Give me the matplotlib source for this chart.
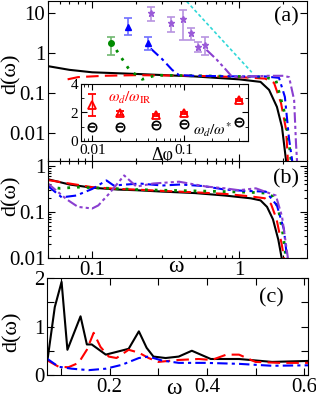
import numpy as np
import matplotlib
matplotlib.use("Agg")
import matplotlib.pyplot as plt
from matplotlib.ticker import LogLocator, NullFormatter, MultipleLocator, FixedLocator

plt.rcParams['font.family'] = ['Liberation Serif', 'DejaVu Serif']
plt.rcParams['mathtext.fontset'] = 'stix'
plt.rcParams['xtick.direction'] = 'in'
plt.rcParams['ytick.direction'] = 'in'

# ---- panel (a): d(omega) curves ----
a_black_w = [0.05, 0.07, 0.1, 0.2, 0.5, 1.0, 1.4, 1.6, 1.81, 1.96, 2.09]
a_black_d = [0.47, 0.38, 0.33, 0.30, 0.26, 0.22, 0.19, 0.12, 0.045, 0.014, 0.002]
a_red_w = [0.068, 0.08, 0.12, 0.2, 0.5, 1.0, 1.5, 1.73, 1.93, 2.09, 2.15]
a_red_d = [0.22, 0.25, 0.27, 0.28, 0.27, 0.25, 0.23, 0.18, 0.056, 0.012, 0.002]
a_green_w = [0.146, 0.179, 0.219, 0.272, 0.5, 1.0, 1.5, 1.78, 2.02, 2.19, 2.26]
a_green_d = [1.19, 0.38, 0.22, 0.28, 0.27, 0.26, 0.25, 0.21, 0.037, 0.0056, 0.002]
a_blue_w = [0.25, 0.3, 0.35, 0.39, 0.5, 1.0, 1.5, 1.87, 2.05, 2.19, 2.3]
a_blue_d = [1.3, 0.7, 0.38, 0.28, 0.27, 0.26, 0.26, 0.24, 0.08, 0.007, 0.002]
a_purple_w = [0.6, 0.7, 0.815, 0.9, 1.2, 1.6, 2.0, 2.19, 2.37, 2.44, 2.48]
a_purple_d = [1.2, 0.7, 0.38, 0.25, 0.26, 0.27, 0.27, 0.25, 0.067, 0.0056, 0.002]
# omega^-4 guide line
cyan_w = [0.44, 1.22]
cyan_d = [19.5, 0.33]

# low-frequency points with error bars
green_pw = [0.135]
green_pd = [1.8]
green_lo = [0.9]
green_hi = [2.5]
blue_pw = [0.176, 0.24]
blue_pd = [4.5, 1.8]
blue_lo = [2.8, 1.2]
blue_hi = [7.5, 2.5]
purple_pw = [0.25, 0.345, 0.416, 0.471, 0.527, 0.586]
purple_pd = [10.0, 5.6, 7.1, 3.2, 1.4, 1.6]
purple_lo = [6.3, 3.3, 2.1, 2.1, 1.06, 0.9]
purple_hi = [14.0, 8.0, 11.8, 4.2, 1.9, 2.5]

# inset
dphi = [0.01, 0.02, 0.05, 0.1, 0.4]
ratio_ir = [2.53, 1.96, 1.82, 1.96, 2.88]
ratio_ir_err = [0.75, 0.15, 0.1, 0.1, 0.1]
ratio_star = [0.98, 0.98, 1.12, 1.19, 1.33]

# ---- panel (b) ----
b_black_w = [0.05, 0.07, 0.1, 0.15, 0.2, 0.3, 0.5, 0.8, 1.2, 1.4, 1.55, 1.7, 1.85, 1.95, 2.05]
b_black_d = [0.52, 0.40, 0.34, 0.31, 0.30, 0.28, 0.26, 0.23, 0.20, 0.18, 0.13, 0.07, 0.025, 0.01, 0.004]
b_red_w = [0.05, 0.07, 0.1, 0.15, 0.2, 0.3, 0.5, 0.8, 1.2, 1.5, 1.65, 1.8, 1.95, 2.05]
b_red_d = [0.50, 0.42, 0.35, 0.32, 0.31, 0.29, 0.27, 0.25, 0.22, 0.20, 0.15, 0.07, 0.02, 0.008]
b_green_w = [0.05, 0.06, 0.08, 0.1, 0.13, 0.2, 0.3, 0.5, 0.8, 1.2, 1.5, 1.7, 1.85, 2.0, 2.1]
b_green_d = [0.36, 0.33, 0.35, 0.34, 0.33, 0.31, 0.30, 0.29, 0.28, 0.27, 0.26, 0.22, 0.12, 0.03, 0.008]
b_blue_w = [0.05, 0.062, 0.078, 0.1, 0.125, 0.14, 0.21, 0.3, 0.4, 0.57, 0.8, 1.1, 1.52, 1.81, 2.02, 2.12]
b_blue_d = [0.37, 0.21, 0.23, 0.32, 0.49, 0.38, 0.42, 0.38, 0.40, 0.37, 0.31, 0.29, 0.28, 0.14, 0.042, 0.01]
b_purple_w = [0.05, 0.067, 0.08, 0.1, 0.11, 0.13, 0.165, 0.2, 0.26, 0.39, 0.6, 0.8, 1.0, 1.3, 1.78, 1.96, 2.15, 2.3]
b_purple_d = [0.42, 0.19, 0.13, 0.12, 0.14, 0.25, 0.63, 0.36, 0.42, 0.46, 0.36, 0.33, 0.30, 0.33, 0.23, 0.08, 0.01, 0.003]

# ---- panel (c): linear ----
c_black_w = [0.072, 0.087, 0.101, 0.113, 0.14, 0.153, 0.163, 0.192, 0.239, 0.26, 0.276, 0.29,
             0.315, 0.342, 0.369, 0.408, 0.466, 0.534, 0.61]
c_black_d = [0.31, 1.4, 1.92, 0.52, 1.21, 0.63, 0.63, 0.42, 0.54, 0.9, 0.56, 0.38,
             0.35, 0.38, 0.5, 0.33, 0.33, 0.27, 0.29]
c_red_w = [0.072, 0.095, 0.115, 0.136, 0.153, 0.167, 0.181, 0.198, 0.214, 0.239, 0.26, 0.28,
           0.30, 0.342, 0.383, 0.41, 0.44, 0.466, 0.5, 0.55, 0.61]
c_red_d = [0.30, 0.17, 0.16, 0.25, 0.52, 0.87, 0.58, 0.38, 0.35, 0.52, 0.46, 0.35,
           0.27, 0.31, 0.33, 0.31, 0.42, 0.42, 0.27, 0.25, 0.25]
c_blue_w = [0.072, 0.095, 0.122, 0.157, 0.192, 0.225, 0.26, 0.28, 0.307, 0.342, 0.398, 0.466, 0.534, 0.61]
c_blue_d = [0.33, 0.17, 0.13, 0.10, 0.13, 0.21, 0.35, 0.38, 0.30, 0.25, 0.25, 0.23, 0.19, 0.20]

GREEN = '#008c00'
BLUE = '#0000ff'
PURPLE = '#8a3fd0'
W, H = 316, 399
TICK_FS = 15
LAB_FS = 16

fig = plt.figure(figsize=(W / 100, H / 100), dpi=100)


def px_axes(x0, y0, x1, y1):
    return fig.add_axes([x0 / W, 1 - y1 / H, (x1 - x0) / W, (y1 - y0) / H])


def style_ticks(ax):
    ax.tick_params(which='both', top=True, right=True, labelsize=TICK_FS, width=0.8, pad=2)
    ax.tick_params(which='major', length=5)
    ax.tick_params(which='minor', length=2.5)


def log_minors(ax):
    for axis in (ax.xaxis, ax.yaxis):
        axis.set_minor_locator(LogLocator(base=10, subs=np.arange(2, 10)))
        axis.set_minor_formatter(NullFormatter())


def fig_label(x_px, y_px, s, rot=0, size=LAB_FS):
    fig.text(x_px / W, 1 - y_px / H, s, fontsize=size, rotation=rot, ha='center', va='center')


lw = 1.5
ax_a = px_axes(48, 1, 307, 161)
ax_a.set_xscale('log')
ax_a.set_yscale('log')
ax_a.plot(a_black_w, a_black_d, color='black', lw=lw)
ax_a.plot(a_red_w, a_red_d, color='red', lw=lw, ls=(0, (6, 3)))
ax_a.plot(a_green_w, a_green_d, color=GREEN, lw=2, ls=(0, (1, 2.5)))
ax_a.plot(a_blue_w, a_blue_d, color=BLUE, lw=lw, ls=(0, (5, 2, 1.5, 2)))
ax_a.plot(a_purple_w, a_purple_d, color=PURPLE, lw=lw, ls=(0, (5, 1.5, 1.5, 1.5, 1.5, 1.5)))
ax_a.plot(cyan_w, cyan_d, color='#30d8d8', lw=1.2, ls=(0, (2, 1.5)))


def errpts(ax, w, d, lo, hi, color, ecolor, marker, ms):
    yerr = [np.array(d) - np.array(lo), np.array(hi) - np.array(d)]
    ax.errorbar(w, d, yerr=yerr, fmt='none', ecolor=ecolor, elinewidth=1.2, capsize=3, capthick=1.2)
    ax.plot(w, d, ls='none', marker=marker, color=color, ms=ms)


errpts(ax_a, green_pw, green_pd, green_lo, green_hi, GREEN, '#70b870', 'o', 4)
errpts(ax_a, blue_pw, blue_pd, blue_lo, blue_hi, BLUE, '#7070ff', '^', 5)
errpts(ax_a, purple_pw, purple_pd, purple_lo, purple_hi, '#9a5ad8', '#b894e0', '*', 5)

ax_a.set_xlim(0.05, 2.9)
ax_a.set_ylim(0.002, 20)
ax_a.set_yticks([0.01, 0.1, 1, 10])
ax_a.set_yticklabels(['0.01', '0.1', '1', '10'])
log_minors(ax_a)
ax_a.tick_params(labelbottom=False)
style_ticks(ax_a)
ax_a.text(0.92, 0.9, '(a)', transform=ax_a.transAxes, fontsize=16, ha='center', va='center')

# inset
ax_i = px_axes(81, 84, 248, 141)
ax_i.set_xscale('log')
ax_i.errorbar(dphi, ratio_ir, yerr=ratio_ir_err, fmt='^', mfc='none', mec='red', ecolor='red',
              ms=6, mew=1.3, capsize=3, elinewidth=1.0)
ax_i.plot(dphi, ratio_star, ls='none', marker='o', mfc='none', mec='black', ms=6, mew=1.2)
ax_i.plot(dphi, ratio_star, ls='none', marker='_', color='black', ms=5, mew=1.2)
ax_i.set_xlim(0.0075, 0.5)
ax_i.set_ylim(0, 4)
ax_i.set_yticks([0, 2, 4])
ax_i.yaxis.set_minor_locator(MultipleLocator(1))
ax_i.set_xticks([0.01, 0.1])
ax_i.set_xticklabels(['0.01', '0.1'])
ax_i.xaxis.set_minor_locator(LogLocator(base=10, subs=np.arange(2, 10)))
ax_i.xaxis.set_minor_formatter(NullFormatter())
ax_i.tick_params(which='both', top=True, right=True, labelsize=11, pad=2)
ax_i.tick_params(which='major', length=4)
ax_i.tick_params(which='minor', length=2)
ax_i.text(0.16, 0.75, r'$\omega_d/\omega_{\rm IR}$', transform=ax_i.transAxes, color='red',
          fontsize=11, ha='left', va='center')
ax_i.text(0.67, 0.2, r'$\omega_d/\omega^{*}$', transform=ax_i.transAxes, color='black',
          fontsize=11, ha='left', va='center')
ax_i.text(0.49, -0.1, 'Δφ', transform=ax_i.transAxes, fontsize=13, ha='center', va='top')

# panel (b)
ax_b = px_axes(48, 161, 307, 258)
ax_b.set_xscale('log')
ax_b.set_yscale('log')
ax_b.plot(b_black_w, b_black_d, color='black', lw=lw)
ax_b.plot(b_red_w, b_red_d, color='red', lw=lw, ls=(0, (6, 3)))
ax_b.plot(b_green_w, b_green_d, color=GREEN, lw=2, ls=(0, (1, 2.5)))
ax_b.plot(b_blue_w, b_blue_d, color=BLUE, lw=lw, ls=(0, (5, 2, 1.5, 2)))
ax_b.plot(b_purple_w, b_purple_d, color=PURPLE, lw=lw, ls=(0, (5, 1.5, 1.5, 1.5, 1.5, 1.5)))
ax_b.set_xlim(0.05, 2.9)
ax_b.set_ylim(0.01, 1.3)
ax_b.set_yticks([0.01, 0.1, 1])
ax_b.set_yticklabels(['0.01', '0.1', '1'])
ax_b.set_xticks([0.1, 1])
ax_b.set_xticklabels(['0.1', '1'])
log_minors(ax_b)
style_ticks(ax_b)
ax_b.text(0.92, 0.82, '(b)', transform=ax_b.transAxes, fontsize=16, ha='center', va='center')

# panel (c)
ax_c = px_axes(47, 278, 308, 375)
ax_c.plot(c_black_w, c_black_d, color='black', lw=lw)
ax_c.plot(c_red_w, c_red_d, color='red', lw=lw, ls=(0, (6, 3)))
ax_c.plot(c_blue_w, c_blue_d, color=BLUE, lw=lw, ls=(0, (5, 2, 1.5, 2)))
ax_c.set_xlim(0.071, 0.608)
ax_c.set_ylim(0, 2)
ax_c.set_xticks([0.2, 0.4, 0.6])
ax_c.xaxis.set_minor_locator(FixedLocator([0.1, 0.3, 0.5]))
ax_c.set_yticks([0, 1, 2])
ax_c.yaxis.set_minor_locator(MultipleLocator(0.5))
style_ticks(ax_c)
ax_c.tick_params(which='minor', length=5)
ax_c.text(0.86, 0.8, '(c)', transform=ax_c.transAxes, fontsize=16, ha='center', va='center')

# axis labels placed in figure pixels
fig_label(11, 74, 'd(ω)', rot=90)
fig_label(11, 196, 'd(ω)', rot=90)
fig_label(12, 332, 'd(ω)', rot=90)
fig_label(176, 267, 'ω', size=17)
fig_label(174, 388, 'ω', size=17)

fig.savefig('out.png', dpi=100)
